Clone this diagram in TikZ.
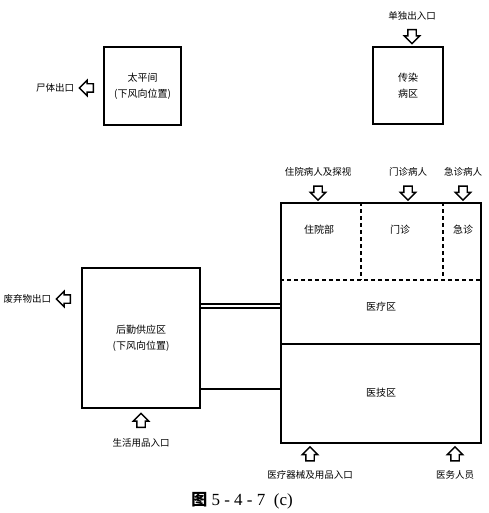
\documentclass[tikz,border=0pt]{standalone}
\usepackage{fontspec}
\newfontfamily\cjk{Noto Sans CJK SC}
\newfontfamily\capfont{Liberation Serif}
\usetikzlibrary{positioning, calc, shapes.arrows}

\begin{document}
\begin{tikzpicture}[
    x=1pt, y=-1pt,
    zonebox/.style={
        draw,
        line width=2pt,
        inner sep=0pt,
        align=center,
        font=\cjk\fontsize{10}{16}\selectfont
    },
    inarrow/.style={
        single arrow,
        draw,
        line width=1.4pt,
        inner sep=3.5pt,
        single arrow head extend=3.5pt,
        minimum height=14pt
    },
    tagtext/.style={font=\cjk\fontsize{9.5}{11}\selectfont, inner sep=1pt},
    roomtext/.style={font=\cjk\fontsize{10}{12}\selectfont, inner sep=1pt},
    dashline/.style={line width=1.5pt, dash pattern=on 4pt off 3pt}
]

\useasboundingbox (0,0) rectangle (488,513);

% parameters
\def\rowh{78}
\def\medh{142}

% zones
\node[zonebox, minimum width=77pt, minimum height=78pt] (morgue) at (142.5,86) {太平间\\(下风向位置)};
\node[zonebox, minimum width=70pt, minimum height=77pt] (ward) at (408,85.5) {传染\\病区};
\node[zonebox, minimum width=118pt, minimum height=140pt] (hq) at (141,338) {后勤供应区\\(下风向位置)};
\node[zonebox, minimum width=200pt, minimum height=240pt] (main) at (381,323) {};

% inner division of the main block
\draw[dashline] ([yshift=-\rowh pt]main.north west) -- ([yshift=-\rowh pt]main.north east);
\draw[dashline] ([xshift=81pt]main.north west) -- ++(0,\rowh);
\draw[dashline] ([xshift=163pt]main.north west) -- ++(0,\rowh);
\draw[line width=2pt] ([yshift=-\medh pt]main.north west) -- ([yshift=-\medh pt]main.north east);

\node[roomtext] (inpat) at (319,230) {住院部};
\node[roomtext] (outpat) at (400,230) {门诊};
\node[roomtext] (emerg) at (463,230) {急诊};
\node[roomtext] (medic) at (381,307) {医疗区};
\node[roomtext] (tech) at (381,393) {医技区};

% links between supply and main block
\coordinate (link1) at ($(hq.north east)!0.275!(hq.south east)$);
\coordinate (link2) at ($(hq.north east)!0.857!(hq.south east)$);
\draw[double, double distance=2.6pt, line width=1.3pt] (link1) -- (link1 -| main.west);
\draw[line width=2pt] (link2) -- (link2 -| main.west);

% entrances and exits
\node[inarrow, shape border rotate=180] (a-body) at (88.5,88) {};
\node[tagtext, left=3pt of a-body] {尸体出口};

\node[inarrow, shape border rotate=270] (a-ward) at (412,34.5) {};
\node[tagtext, above=7pt of a-ward] {单独出入口};

\node[inarrow, shape border rotate=180] (a-waste) at (65.5,299) {};
\node[tagtext, left=3pt of a-waste] {废弃物出口};

\node[inarrow, shape border rotate=90] (a-goods) at (141,422.5) {};
\node[tagtext, below=9pt of a-goods] {生活用品入口};

\node[inarrow, shape border rotate=270] (a-stay) at (318,191) {};
\node[tagtext, above=8pt of a-stay] {住院病人及探视};
\node[inarrow, shape border rotate=270] (a-out) at (408,191) {};
\node[tagtext, above=8pt of a-out] {门诊病人};
\node[inarrow, shape border rotate=270] (a-emer) at (463,191) {};
\node[tagtext, above=8pt of a-emer] {急诊病人};

\node[inarrow, shape border rotate=90] (a-equip) at (310,456) {};
\node[tagtext, below=8pt of a-equip] {医疗器械及用品入口};
\node[inarrow, shape border rotate=90] (a-staff) at (455,456) {};
\node[tagtext, below=8pt of a-staff] {医务人员};

% caption
\node[font=\capfont\fontsize{17}{19}\selectfont] (caption) at (242,501) {{\cjk\bfseries\fontsize{16}{19}\selectfont 图}\ 5\ -\ 4\ -\ 7\ \ (c)};

\end{tikzpicture}
\end{document}
